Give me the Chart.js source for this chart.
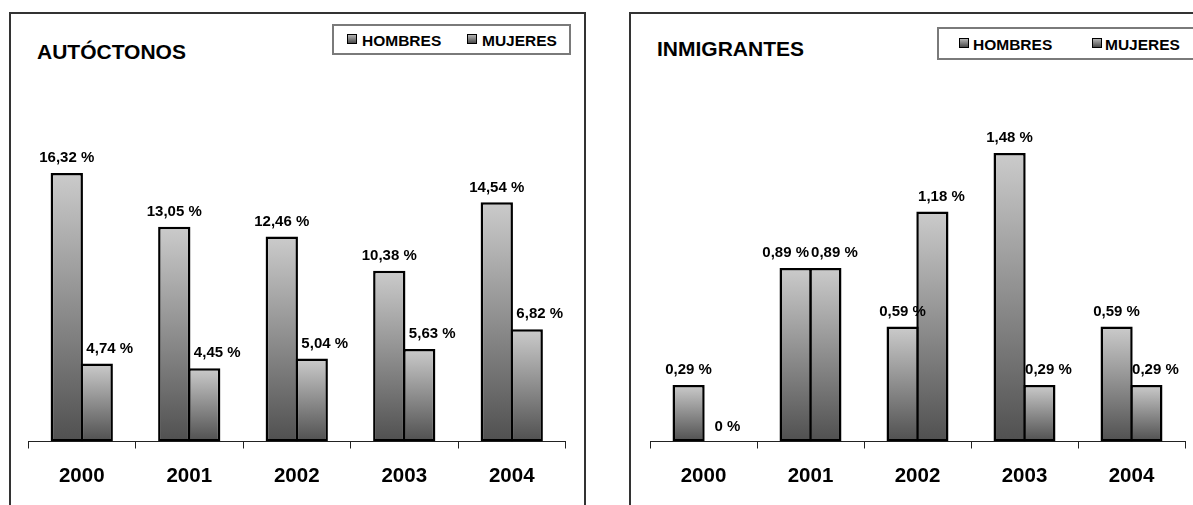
<!DOCTYPE html>
<html>
<head>
<meta charset="utf-8">
<script src="https://cdn.jsdelivr.net/npm/chart.js@4.4.1/dist/chart.umd.min.js"></script>
<style>
  html, body { margin: 0; padding: 0; background: #fff; }
  body { width: 1193px; height: 505px; position: relative; overflow: hidden;
         font-family: "Liberation Sans", Arial, sans-serif; }
  .panel { position: absolute; border: 2px solid #333; box-sizing: border-box; }
  .title { position: absolute; font-weight: bold; font-size: 21px; line-height: 21px; color: #000; white-space: nowrap; }
  .legend { position: absolute; border: 2px solid #7a7a7a; box-sizing: border-box; background: #fff; }
  .sw { position: absolute; width: 10px; height: 10px; box-sizing: border-box; border: 1.5px solid #000;
        background: linear-gradient(#b5b5b5, #4a4a4a); }
  .lt { position: absolute; font-weight: bold; font-size: 15.5px; line-height: 16px; color: #000; white-space: nowrap; }
  canvas { position: absolute; top: 0; }
</style>
</head>
<body>
<div class="panel" style="left:9px; top:12px; width:577px; height:600px;"></div>
<div class="panel" style="left:629px; top:12px; width:700px; height:600px;"></div>

<div class="title" id="t1" style="left:37px; top:41px;"></div>
<div class="title" id="t2" style="left:657px; top:38px;"></div>

<div class="legend" style="left:332px; top:24px; width:239px; height:31px;"></div>
<div class="sw" style="left:347px; top:34px;"></div>
<div class="lt" id="l1a" style="left:362px; top:33px;"></div>
<div class="sw" style="left:467px; top:34px;"></div>
<div class="lt" id="l1b" style="left:482px; top:33px;"></div>

<div class="legend" style="left:937px; top:27px; width:300px; height:33px;"></div>
<div class="sw" style="left:959px; top:38px;"></div>
<div class="lt" id="l2a" style="left:973px; top:37px;"></div>
<div class="sw" style="left:1092px; top:38px;"></div>
<div class="lt" id="l2b" style="left:1105px; top:37px;"></div>

<canvas id="c1" width="600" height="505" style="left:0px; width:600px; height:505px;"></canvas>
<canvas id="c2" width="593" height="505" style="left:600px; width:593px; height:505px;"></canvas>

<script>
// ---- data ----
const categories = ['2000', '2001', '2002', '2003', '2004'];
const seriesNames = ['HOMBRES', 'MUJERES'];
const titles = ['AUTÓCTONOS', 'INMIGRANTES'];
const autoHombres = [16.32, 13.05, 12.46, 10.38, 14.54];
const autoMujeres = [4.74, 4.45, 5.04, 5.63, 6.82];
const inmiHombres = [0.29, 0.89, 0.59, 1.48, 0.59];
const inmiMujeres = [0, 0.89, 1.18, 0.29, 0.29];

document.getElementById('t1').textContent = titles[0];
document.getElementById('t2').textContent = titles[1];
document.getElementById('l1a').textContent = seriesNames[0];
document.getElementById('l1b').textContent = seriesNames[1];
document.getElementById('l2a').textContent = seriesNames[0];
document.getElementById('l2b').textContent = seriesNames[1];

const FONT = '"Liberation Sans", Arial, sans-serif';

function fmt(v) { return String(v).replace('.', ',') + ' %'; }

function barFill(ctx) {
  const chart = ctx.chart;
  if (!chart.chartArea || ctx.type !== 'data') return '#999';
  const y = chart.scales.y;
  const top = y.getPixelForValue(ctx.raw);
  const bot = y.getPixelForValue(0);
  if (bot - top < 1) return '#999';
  const g = chart.ctx.createLinearGradient(0, top, 0, bot);
  g.addColorStop(0, '#cbcbcb');
  g.addColorStop(1, '#505050');
  return g;
}

const labelPlugin = {
  id: 'barLabels',
  afterDatasetsDraw(chart, args, opts) {
    const c = chart.ctx;
    c.save();
    c.font = 'bold 15px ' + FONT;
    c.fillStyle = '#000';
    c.textAlign = 'center';
    c.textBaseline = 'middle';
    const n = chart.data.labels.length;
    for (let i = 0; i < n; i++) {
      const items = chart.data.datasets.map((ds, di) => {
        const bar = chart.getDatasetMeta(di).data[i];
        const txt = fmt(ds.data[i]);
        const w = c.measureText(txt).width;
        return { txt, w, x: bar.x + (di === 1 ? opts.dx : 0), y: bar.y - 15 };
      });
      const a = items[0], b = items[1];
      if (Math.abs(a.y - b.y) < 14) {
        const overlap = (a.x + a.w / 2 + 2) - (b.x - b.w / 2);
        if (overlap > 0) a.x -= overlap;
      }
      items.forEach(it => c.fillText(it.txt, it.x, it.y));
    }
    c.restore();
  }
};

function dataset(label, data) {
  return {
    label: label,
    data: data,
    backgroundColor: barFill,
    borderColor: '#000',
    borderWidth: 2.5,
    borderSkipped: false,
    categoryPercentage: 0.557,
    barPercentage: 1.08
  };
}

function makeChart(id, hombres, mujeres, yMax, padL, padR, dx) {
  return new Chart(document.getElementById(id), {
    type: 'bar',
    data: {
      labels: categories,
      datasets: [ dataset(seriesNames[0], hombres), dataset(seriesNames[1], mujeres) ]
    },
    options: {
      responsive: false,
      animation: false,
      devicePixelRatio: 1,
      layout: { padding: { left: padL, right: padR, top: 80, bottom: 0 } },
      scales: {
        x: {
          grid: { display: true, drawOnChartArea: false, drawTicks: true, tickLength: 7, color: '#222', lineWidth: 1, offset: true },
          border: { display: true, color: '#222', width: 1 },
          ticks: { color: '#000', font: { family: FONT, size: 20.5, weight: 'bold' }, padding: 16 },
          afterFit: s => { s.height = 63.5; }
        },
        y: { display: false, min: 0, max: yMax }
      },
      plugins: {
        colors: { enabled: false },
        legend: { display: false },
        tooltip: { enabled: false },
        title: { display: false },
        barLabels: { dx: dx }
      }
    },
    plugins: [labelPlugin]
  });
}

makeChart('c1', autoHombres, autoMujeres, 21.98, 28, 34.5, 13);
makeChart('c2', inmiHombres, inmiMujeres, 1.855, 50, 8, 9);
</script>
</body>
</html>
